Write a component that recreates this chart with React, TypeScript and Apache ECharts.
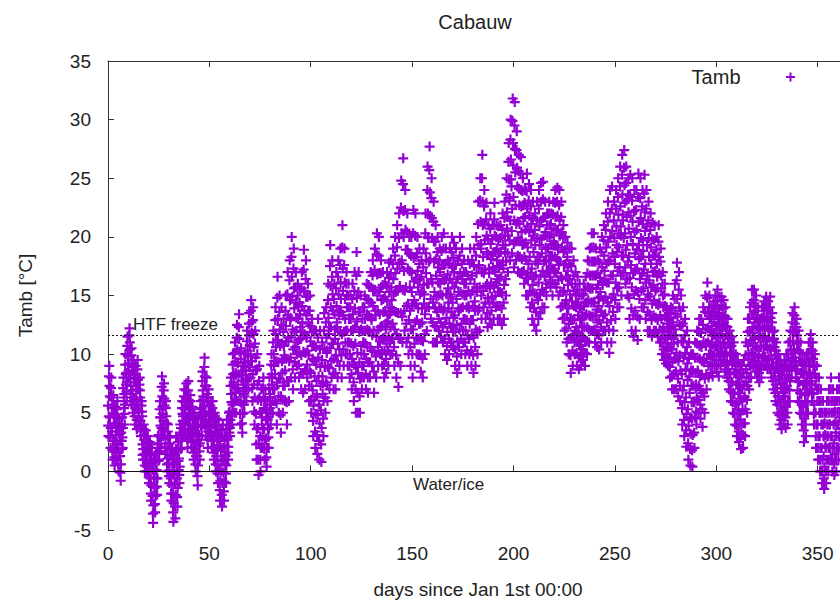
import React, { useEffect, useRef } from "react";
import * as echarts from "echarts";

const chartTitle = "Cabauw";
const seriesName = "Tamb";
const xAxisName = "days since Jan 1st 00:00";
const yAxisName = "Tamb [°C]";
const htfFreezeLabel = "HTF freeze";
const waterIceLabel = "Water/ice";
const htfFreezeLevel = 11.6;
const waterIceLevel = 0;

// hour of day of each of the eight readings kept per day (in the order they are listed)
const readingHours = [6, 3, 9, 0, 21, 18, 12, 15];

// Tamb readings [°C], eight per day
const jan = [
  3, 3.9, 4.7, 5.6, 6.4, 7.3, 8.1, 9, 2, 2.9, 3.7, 4.6, 5.4, 6.3, 7.1, 8,
  1, 1.8, 2.6, 3.4, 4.1, 4.9, 5.7, 6.5, 0.5, 1.2, 1.9, 2.6, 3.4, 4.1, 4.8, 5.5,
  1, 1.7, 2.4, 3.1, 3.9, 4.6, 5.3, 6, 0, 0.6, 1.3, 1.9, 2.6, 3.2, 3.9, 4.5,
  -0.8, -0.1, 0.6, 1.3, 1.9, 2.6, 3.3, 4, 2, 2.9, 3.7, 4.6, 5.4, 6.3, 7.1, 8,
  4, 4.9, 5.7, 6.6, 7.4, 8.3, 9.1, 10, 6, 6.8, 7.6, 8.4, 9.1, 9.9, 10.7, 11.5,
  8, 8.6, 9.2, 9.8, 10.4, 11, 11.6, 12.2, 6, 6.6, 7.3, 7.9, 8.6, 9.2, 9.9, 10.5,
  5, 5.6, 6.3, 6.9, 7.6, 8.2, 8.9, 9.5, 4, 4.7, 5.4, 6.1, 6.9, 7.6, 8.3, 9,
  3.6, 4.4, 5.3, 6.1, 7, 7.8, 8.7, 9.5, 4, 4.6, 5.1, 5.7, 6.3, 6.9, 7.4, 8,
  3, 3.4, 3.9, 4.3, 4.7, 5.1, 5.6, 6, 1, 1.4, 1.9, 2.3, 2.7, 3.1, 3.6, 4,
  0, 0.5, 1, 1.5, 2, 2.5, 3, 3.5, 0, 0.4, 0.9, 1.3, 1.7, 2.1, 2.6, 3,
  -1, -0.5, 0, 0.5, 1, 1.5, 2, 2.5, -2.5, -1.9, -1.2, -0.6, 0.1, 0.7, 1.4, 2,
  -4.4, -3.6, -2.9, -2.1, -1.3, -0.5, 0.2, 1, -3.5, -2.8, -2.1, -1.4, -0.6, 0.1, 0.8, 1.5,
  -2, -1.3, -0.6, 0.1, 0.9, 1.6, 2.3, 3, 1, 1.7, 2.4, 3.1, 3.9, 4.6, 5.3, 6,
  2, 2.9, 3.7, 4.6, 5.5, 6.4, 7.2, 8.1, 3, 3.6, 4.3, 4.9, 5.6, 6.2, 6.9, 7.5,
  1.5, 2.1, 2.8, 3.4, 4.1, 4.7, 5.4, 6, 0, 0.6, 1.1, 1.7, 2.3, 2.9, 3.4, 4,
  -1, -0.4, 0.1, 0.7, 1.3, 1.9, 2.4, 3,
];
const feb = [
  -2.5, -1.9, -1.2, -0.6, 0.1, 0.7, 1.4, 2, -4.3, -3.5, -2.7, -1.9, -1.1, -0.2, 0.6, 1.4,
  -4, -3, -2, -1, 0, 0.9, 1.9, 2.9, -3, -2.2, -1.4, -0.6, 0.1, 0.9, 1.7, 2.5,
  -1, -0.3, 0.4, 1.1, 1.9, 2.6, 3.3, 4, 2, 2.6, 3.1, 3.7, 4.3, 4.9, 5.4, 6,
  3, 3.6, 4.1, 4.7, 5.3, 5.9, 6.4, 7, 3, 3.6, 4.3, 4.9, 5.6, 6.2, 6.9, 7.5,
  2, 2.8, 3.6, 4.4, 5.3, 6.1, 6.9, 7.7, 3, 3.5, 4, 4.5, 5, 5.5, 6, 6.5,
  2, 2.5, 3, 3.5, 4, 4.5, 5, 5.5, 1, 1.6, 2.1, 2.7, 3.3, 3.9, 4.4, 5,
  0, 0.6, 1.3, 1.9, 2.6, 3.2, 3.9, 4.5, -1.2, -0.4, 0.5, 1.3, 2.2, 3, 3.9, 4.7,
  1, 1.7, 2.4, 3.1, 3.9, 4.6, 5.3, 6, 3, 3.8, 4.6, 5.4, 6.1, 6.9, 7.7, 8.5,
  4, 4.8, 5.6, 6.4, 7.3, 8.1, 8.9, 9.7, 3, 3.7, 4.4, 5.1, 5.9, 6.6, 7.3, 8,
  2, 2.7, 3.4, 4.1, 4.9, 5.6, 6.3, 7, 3, 3.4, 3.9, 4.3, 4.7, 5.1, 5.6, 6,
  2, 2.6, 3.1, 3.7, 4.3, 4.9, 5.4, 6, 1, 1.6, 2.1, 2.7, 3.3, 3.9, 4.4, 5,
  0, 0.6, 1.3, 1.9, 2.6, 3.2, 3.9, 4.5, -1, -0.2, 0.5, 1.3, 2.1, 2.9, 3.6, 4.4,
  -2.5, -1.6, -0.8, 0.1, 0.9, 1.8, 2.6, 3.5, -3, -2, -1, 0, 1, 2, 3, 4,
  -2.5, -1.7, -0.9, -0.1, 0.6, 1.4, 2.2, 3, -1, -0.2, 0.5, 1.3, 2.1, 2.9, 3.6, 4.4,
];
const mar = [
  1, 1.6, 2.1, 2.7, 3.3, 3.9, 4.4, 5, 3, 3.7, 4.4, 5.1, 5.9, 6.6, 7.3, 8,
  4, 4.9, 5.7, 6.6, 7.4, 8.3, 9.1, 10, 5, 5.9, 6.7, 7.6, 8.4, 9.3, 10.1, 11,
  5, 6.1, 7.1, 8.2, 9.3, 10.4, 11.4, 12.5, 6, 7.1, 8.1, 9.2, 10.2, 11.3, 12.3, 13.4,
  4, 4.9, 5.9, 6.8, 7.7, 8.6, 9.6, 10.5, 3.3, 4.1, 4.9, 5.7, 6.6, 7.4, 8.2, 9,
  5, 5.7, 6.4, 7.1, 7.9, 8.6, 9.3, 10, 6, 6.9, 7.7, 8.6, 9.4, 10.3, 11.1, 12,
  7, 7.9, 8.9, 9.8, 10.7, 11.6, 12.6, 13.5, 8, 8.9, 9.9, 10.8, 11.8, 12.7, 13.7, 14.6,
  6, 7.1, 8.3, 9.4, 10.6, 11.7, 12.9, 14, 4, 5.1, 6.3, 7.4, 8.6, 9.7, 10.9, 12,
  1, 2.3, 3.6, 4.9, 6.1, 7.4, 8.7, 10, -0.3, 1, 2.4, 3.7, 5, 6.3, 7.7, 9,
  0, 1, 2, 3, 4, 5, 6, 7, 2, 2.9, 3.7, 4.6, 5.4, 6.3, 7.1, 8,
  1, 1.9, 2.7, 3.6, 4.4, 5.3, 6.1, 7, 0.4, 1.2, 2, 2.8, 3.6, 4.4, 5.2, 6,
  2, 2.9, 3.7, 4.6, 5.4, 6.3, 7.1, 8, 4, 4.9, 5.7, 6.6, 7.4, 8.3, 9.1, 10,
  5, 6, 7, 8, 9, 10, 11, 12, 6, 7.1, 8.3, 9.4, 10.6, 11.7, 12.9, 14,
  4, 5.8, 7.6, 9.4, 11.2, 13, 14.8, 16.6, 5, 6.4, 7.9, 9.3, 10.7, 12.1, 13.6, 15,
  3.3, 4.8, 6.4, 7.9, 9.4, 10.9, 12.5, 14, 5, 6.1, 7.3, 8.4, 9.6, 10.7, 11.9, 13,
  6, 7.3, 8.6, 9.9, 11.1, 12.4, 13.7, 15, 4, 5.9, 7.7, 9.6, 11.4, 13.3, 15.1, 17,
  6, 7.7, 9.4, 11.1, 12.9, 14.6, 16.3, 18,
];
const apr = [
  8, 9.7, 11.4, 13.1, 14.9, 16.6, 18.3, 20, 7, 8.7, 10.4, 12.1, 13.9, 15.6, 17.3, 19,
  8, 9.3, 10.6, 11.9, 13.1, 14.4, 15.7, 17, 9, 10, 11, 12, 13, 14, 15, 16,
  8, 9.1, 10.1, 11.2, 12.3, 13.4, 14.4, 15.5, 7, 8.4, 9.9, 11.3, 12.7, 14.1, 15.6, 17,
  6.7, 8.4, 10.2, 11.9, 13.7, 15.4, 17.2, 18.9, 7, 8.6, 10.1, 11.7, 13.3, 14.9, 16.4, 18,
  8, 9.1, 10.3, 11.4, 12.6, 13.7, 14.9, 16, 6, 7.3, 8.6, 9.9, 11.1, 12.4, 13.7, 15,
  5, 6.1, 7.3, 8.4, 9.6, 10.7, 11.9, 13, 3, 4.3, 5.6, 6.9, 8.1, 9.4, 10.7, 12,
  2, 3.4, 4.9, 6.3, 7.7, 9.1, 10.6, 12, 1.5, 3.1, 4.8, 6.4, 8.1, 9.7, 11.4, 13,
  1, 2.6, 4.1, 5.7, 7.3, 8.9, 10.4, 12, 0.8, 2.3, 3.7, 5.2, 6.6, 8.1, 9.5, 11,
  3, 4.5, 6, 7.5, 9, 10.5, 12, 13.5, 5, 6.3, 7.6, 8.9, 10.1, 11.4, 12.7, 14,
  6, 7.4, 8.9, 10.3, 11.7, 13.1, 14.6, 16, 7, 8.8, 10.5, 12.3, 14, 15.8, 17.5, 19.3,
  8, 9.4, 10.9, 12.3, 13.7, 15.1, 16.6, 18, 7, 8.3, 9.6, 10.9, 12.1, 13.4, 14.7, 16,
  7, 8.4, 9.9, 11.3, 12.7, 14.1, 15.6, 17, 8, 9.4, 10.9, 12.3, 13.7, 15.1, 16.6, 18,
  9, 10.4, 11.9, 13.3, 14.7, 16.1, 17.6, 19, 8, 9.9, 11.7, 13.6, 15.4, 17.3, 19.1, 21,
  9, 10.4, 11.9, 13.3, 14.7, 16.1, 17.6, 19, 10, 11, 12, 13, 14, 15, 16, 17,
  9, 10, 11, 12, 13, 14, 15, 16, 8, 9, 10, 11, 12, 13, 14, 15,
];
const may = [
  7, 8.3, 9.6, 10.9, 12.1, 13.4, 14.7, 16, 6, 7.6, 9.1, 10.7, 12.3, 13.9, 15.4, 17,
  5, 7, 8.9, 10.9, 12.8, 14.8, 16.7, 18.7, 5, 6.7, 8.4, 10.1, 11.9, 13.6, 15.3, 17,
  5, 6.4, 7.9, 9.3, 10.7, 12.1, 13.6, 15, 7, 8, 9, 10, 11, 12, 13, 14,
  8, 9, 10, 11, 12, 13, 14, 15, 7, 8.3, 9.6, 10.9, 12.1, 13.4, 14.7, 16,
  6.7, 8, 9.3, 10.6, 12, 13.3, 14.6, 15.9, 8, 9.3, 10.6, 11.9, 13.1, 14.4, 15.7, 17,
  9, 10.3, 11.6, 12.9, 14.1, 15.4, 16.7, 18, 6.7, 8.5, 10.2, 12, 13.7, 15.5, 17.2, 19,
  8, 9.8, 11.5, 13.3, 15, 16.8, 18.5, 20.3, 9, 10.6, 12.1, 13.7, 15.3, 16.9, 18.4, 20,
  10, 11.1, 12.3, 13.4, 14.6, 15.7, 16.9, 18, 9, 10.1, 11.3, 12.4, 13.6, 14.7, 15.9, 17,
  8, 9.1, 10.3, 11.4, 12.6, 13.7, 14.9, 16, 8.4, 9.6, 10.9, 12.1, 13.3, 14.5, 15.8, 17,
  9, 10.3, 11.5, 12.8, 14, 15.3, 16.5, 17.8, 10, 11.1, 12.3, 13.4, 14.6, 15.7, 16.9, 18,
  10, 11.3, 12.6, 13.9, 15.1, 16.4, 17.7, 19, 9, 10.6, 12.1, 13.7, 15.3, 16.9, 18.4, 20,
  8, 9.9, 11.7, 13.6, 15.4, 17.3, 19.1, 21, 7.2, 9.3, 11.4, 13.5, 15.7, 17.8, 19.9, 22,
  9, 11.3, 13.5, 15.8, 18, 20.3, 22.5, 24.8, 11, 13.2, 15.5, 17.7, 20, 22.2, 24.5, 26.7,
  12, 13.7, 15.4, 17.1, 18.9, 20.6, 22.3, 24, 11, 12.6, 14.1, 15.7, 17.3, 18.9, 20.4, 22,
  10, 11.4, 12.9, 14.3, 15.7, 17.1, 18.6, 20, 9, 10.6, 12.1, 13.7, 15.3, 16.9, 18.4, 20,
  8, 10, 12.1, 14.1, 16.2, 18.2, 20.3, 22.3,
];
const jun = [
  9, 10.9, 12.7, 14.6, 16.4, 18.3, 20.1, 22, 10, 11.4, 12.9, 14.3, 15.7, 17.1, 18.6, 20,
  10, 11.3, 12.6, 13.9, 15.1, 16.4, 17.7, 19, 8.5, 9.9, 11.2, 12.6, 13.9, 15.3, 16.6, 18,
  8, 9.6, 11.1, 12.7, 14.3, 15.9, 17.4, 19, 10, 11.7, 13.4, 15.1, 16.9, 18.6, 20.3, 22,
  12, 14, 16, 18, 20, 22, 24, 26, 14, 16, 17.9, 19.9, 21.8, 23.8, 25.7, 27.7,
  13, 14.7, 16.4, 18.1, 19.9, 21.6, 23.3, 25, 11, 12.7, 14.4, 16.1, 17.9, 19.6, 21.3, 23,
  11, 12.4, 13.9, 15.3, 16.7, 18.1, 19.6, 21, 11, 12.3, 13.6, 14.9, 16.1, 17.4, 18.7, 20,
  12, 13, 14, 15, 16, 17, 18, 19, 11.5, 12.7, 13.9, 15.1, 16.4, 17.6, 18.8, 20,
  11, 12.3, 13.7, 15, 16.3, 17.6, 19, 20.3, 10, 11.3, 12.6, 13.9, 15.1, 16.4, 17.7, 19,
  9.5, 10.7, 11.9, 13.1, 14.4, 15.6, 16.8, 18, 10, 11.3, 12.6, 13.9, 15.1, 16.4, 17.7, 19,
  11, 12.3, 13.6, 14.9, 16.1, 17.4, 18.7, 20, 10.6, 11.9, 13.1, 14.4, 15.7, 17, 18.2, 19.5,
  9, 10.4, 11.9, 13.3, 14.7, 16.1, 17.6, 19, 8.4, 9.8, 11.1, 12.5, 13.9, 15.3, 16.6, 18,
  9, 10.6, 12.1, 13.7, 15.3, 16.9, 18.4, 20, 10, 11.3, 12.6, 13.9, 15.1, 16.4, 17.7, 19,
  11, 12, 13, 14, 15, 16, 17, 18, 10, 11, 12, 13, 14, 15, 16, 17,
  9, 10.3, 11.6, 12.9, 14.1, 15.4, 16.7, 18, 10, 11.3, 12.6, 13.9, 15.1, 16.4, 17.7, 19,
  9, 10.3, 11.6, 12.9, 14.1, 15.4, 16.7, 18, 8.4, 9.9, 11.4, 12.9, 14.5, 16, 17.5, 19,
];
const jul = [
  9, 10.6, 12.1, 13.7, 15.3, 16.9, 18.4, 20, 10, 11.9, 13.7, 15.6, 17.4, 19.3, 21.1, 23,
  12, 13.9, 15.7, 17.6, 19.4, 21.3, 23.1, 25, 13, 15, 17, 19, 21, 23, 25, 27,
  14, 15.4, 16.9, 18.3, 19.7, 21.1, 22.6, 24, 13, 14.4, 15.8, 17.2, 18.7, 20.1, 21.5, 22.9,
  12.3, 13.5, 14.8, 16, 17.3, 18.5, 19.8, 21, 13, 14.3, 15.6, 16.9, 18.1, 19.4, 20.7, 22,
  12.5, 13.7, 14.9, 16.1, 17.4, 18.6, 19.8, 21, 13, 14.4, 15.8, 17.2, 18.7, 20.1, 21.5, 22.9,
  14, 15, 16, 17, 18, 19, 20, 21, 13, 14.1, 15.3, 16.4, 17.5, 18.6, 19.8, 20.9,
  13, 14.1, 15.3, 16.4, 17.6, 18.7, 19.9, 21, 12.5, 13.9, 15.2, 16.6, 17.9, 19.3, 20.6, 22,
  13, 14.4, 15.9, 17.3, 18.7, 20.1, 21.6, 23, 15, 16.4, 17.9, 19.3, 20.7, 22.1, 23.6, 25,
  17, 18.6, 20.1, 21.7, 23.3, 24.9, 26.4, 28, 18, 19.7, 21.4, 23.1, 24.9, 26.6, 28.3, 30,
  18.6, 20.5, 22.4, 24.3, 26.1, 28, 29.9, 31.8, 17.4, 19.4, 21.4, 23.4, 25.5, 27.5, 29.5, 31.5,
  18, 19.6, 21.1, 22.7, 24.3, 25.9, 27.4, 29, 17, 18.4, 19.9, 21.3, 22.7, 24.1, 25.6, 27,
  16.9, 18.3, 19.7, 21.1, 22.6, 24, 25.4, 26.8, 17, 18.1, 19.3, 20.4, 21.6, 22.7, 23.9, 25,
  16, 17.1, 18.3, 19.4, 20.6, 21.7, 22.9, 24, 15, 16.5, 18, 19.5, 20.9, 22.4, 23.9, 25.4,
  15, 16.4, 17.7, 19.1, 20.4, 21.8, 23.1, 24.5, 14, 15.4, 16.9, 18.3, 19.7, 21.1, 22.6, 24,
  13, 14.4, 15.9, 17.3, 18.7, 20.1, 21.6, 23, 12.5, 13.9, 15.2, 16.6, 17.9, 19.3, 20.6, 22,
  12, 13.6, 15.1, 16.7, 18.3, 19.9, 21.4, 23,
];
const aug = [
  13, 14.6, 16.1, 17.7, 19.3, 20.9, 22.4, 24, 13.5, 15.1, 16.7, 18.3, 19.8, 21.4, 23, 24.6,
  14, 15.5, 17.1, 18.6, 20.1, 21.6, 23.2, 24.7, 14, 15.3, 16.6, 17.9, 19.1, 20.4, 21.7, 23,
  15, 16, 17, 18, 19, 20, 21, 22, 16, 17, 18, 19, 20, 21, 22, 23,
  15.7, 16.6, 17.5, 18.4, 19.3, 20.2, 21.1, 22, 15, 16.1, 17.3, 18.4, 19.6, 20.7, 21.9, 23,
  16, 17.1, 18.3, 19.4, 20.6, 21.7, 22.9, 24, 15.7, 16.9, 18.1, 19.3, 20.6, 21.8, 23, 24.2,
  15, 16.3, 17.6, 18.9, 20.1, 21.4, 22.7, 24, 14, 15.3, 16.6, 17.9, 19.1, 20.4, 21.7, 23,
  13, 14.1, 15.3, 16.4, 17.6, 18.7, 19.9, 21, 12, 13.1, 14.3, 15.4, 16.6, 17.7, 18.9, 20,
  11, 12.2, 13.4, 14.6, 15.9, 17.1, 18.3, 19.5, 10, 11.3, 12.6, 13.9, 15.1, 16.4, 17.7, 19,
  8.4, 9.9, 11.4, 12.9, 14.5, 16, 17.5, 19, 9, 10.3, 11.6, 12.9, 14.1, 15.4, 16.7, 18,
  10, 11, 12, 13, 14, 15, 16, 17, 9, 10.1, 11.2, 12.3, 13.3, 14.4, 15.5, 16.6,
  8.7, 9.7, 10.8, 11.8, 12.9, 13.9, 15, 16, 9, 9.9, 10.7, 11.6, 12.4, 13.3, 14.1, 15,
  9.5, 10.4, 11.4, 12.3, 13.2, 14.1, 15.1, 16, 9, 10.1, 11.2, 12.3, 13.3, 14.4, 15.5, 16.6,
  10, 11.1, 12.3, 13.4, 14.6, 15.7, 16.9, 18, 11, 12.1, 13.3, 14.4, 15.6, 16.7, 17.9, 19,
  12, 13.2, 14.4, 15.6, 16.7, 17.9, 19.1, 20.3, 12, 13.2, 14.4, 15.6, 16.7, 17.9, 19.1, 20.3,
  11, 12.1, 13.3, 14.4, 15.6, 16.7, 17.9, 19, 10.6, 11.7, 12.7, 13.8, 14.8, 15.9, 16.9, 18,
  10.4, 11.6, 12.9, 14.1, 15.3, 16.5, 17.8, 19,
];
const sep = [
  11, 12.3, 13.6, 14.9, 16.1, 17.4, 18.7, 20, 12, 13.3, 14.6, 15.9, 17.1, 18.4, 19.7, 21,
  12, 13.4, 14.9, 16.3, 17.7, 19.1, 20.6, 22, 11, 12.7, 14.4, 16.1, 17.9, 19.6, 21.3, 23,
  10.1, 12.1, 14.1, 16.1, 18, 20, 22, 24, 11, 12.9, 14.8, 16.7, 18.6, 20.5, 22.4, 24.3,
  12, 13.6, 15.1, 16.7, 18.3, 19.9, 21.4, 23, 13, 14.6, 16.1, 17.7, 19.3, 20.9, 22.4, 24,
  14, 15.6, 17.1, 18.7, 20.3, 21.9, 23.4, 25, 14, 15.7, 17.4, 19.1, 20.9, 22.6, 24.3, 26,
  15, 16.7, 18.4, 20.1, 21.9, 23.6, 25.3, 27, 16.9, 18.4, 19.9, 21.4, 22.9, 24.4, 25.9, 27.4,
  16, 17.4, 18.9, 20.3, 21.7, 23.1, 24.6, 26, 15, 16.4, 17.9, 19.3, 20.7, 22.1, 23.6, 25,
  13, 14.8, 16.5, 18.3, 20, 21.8, 23.5, 25.3, 12, 13.9, 15.7, 17.6, 19.4, 21.3, 23.1, 25,
  11.5, 13.3, 15.1, 16.9, 18.6, 20.4, 22.2, 24, 12, 13.7, 15.4, 17.1, 18.9, 20.6, 22.3, 24,
  11.2, 13.2, 15.3, 17.3, 19.3, 21.3, 23.4, 25.4, 13, 14.7, 16.4, 18.1, 19.9, 21.6, 23.3, 25,
  14, 15.4, 16.9, 18.3, 19.7, 21.1, 22.6, 24, 14, 15.6, 17.2, 18.8, 20.5, 22.1, 23.7, 25.3,
  13, 14.6, 16.1, 17.7, 19.3, 20.9, 22.4, 24, 12, 13.6, 15.1, 16.7, 18.3, 19.9, 21.4, 23,
  12, 13.4, 14.9, 16.3, 17.7, 19.1, 20.6, 22, 11.5, 12.9, 14.3, 15.7, 17, 18.4, 19.8, 21.2,
  12, 13.3, 14.6, 15.9, 17.1, 18.4, 19.7, 21, 12, 13.1, 14.3, 15.4, 16.6, 17.7, 18.9, 20,
  11.5, 12.9, 14.2, 15.6, 16.9, 18.3, 19.6, 21, 11, 12.1, 13.3, 14.4, 15.6, 16.7, 17.9, 19,
];
const oct = [
  10, 11, 12, 13, 14, 15, 16, 17, 9.5, 10.4, 11.4, 12.3, 13.2, 14.1, 15.1, 16,
  9.2, 9.9, 10.6, 11.3, 11.9, 12.6, 13.3, 14, 9, 9.6, 10.3, 10.9, 11.6, 12.2, 12.9, 13.5,
  8, 8.9, 9.7, 10.6, 11.4, 12.3, 13.1, 14, 7, 8.1, 9.3, 10.4, 11.6, 12.7, 13.9, 15,
  7, 8.3, 9.6, 10.9, 12.1, 13.4, 14.7, 16, 7, 8.5, 10.1, 11.6, 13.2, 14.7, 16.3, 17.8,
  6.4, 7.9, 9.4, 11, 12.5, 14, 15.5, 17, 6, 7.3, 8.6, 9.9, 11.1, 12.4, 13.7, 15,
  4, 5.4, 6.9, 8.3, 9.7, 11.1, 12.6, 14, 3, 4.4, 5.9, 7.3, 8.7, 10.1, 11.6, 13,
  2.1, 3.5, 4.9, 6.3, 7.8, 9.2, 10.6, 12, 1, 2.4, 3.9, 5.3, 6.7, 8.1, 9.6, 11,
  0.5, 1.9, 3.2, 4.6, 5.9, 7.3, 8.6, 10, 0.4, 1.8, 3.1, 4.5, 5.9, 7.3, 8.6, 10,
  2, 3.3, 4.6, 5.9, 7.1, 8.4, 9.7, 11, 4, 5.1, 6.3, 7.4, 8.6, 9.7, 10.9, 12,
  5, 6.1, 7.3, 8.4, 9.6, 10.7, 11.9, 13, 4.5, 5.7, 6.9, 8.1, 9.4, 10.6, 11.8, 13,
  3.8, 5.3, 6.7, 8.2, 9.6, 11.1, 12.5, 14, 5, 6.4, 7.9, 9.3, 10.7, 12.1, 13.6, 15,
  7, 8.3, 9.6, 10.9, 12.2, 13.5, 14.8, 16.1, 8, 9, 10, 11, 12, 13, 14, 15,
  8.4, 9.2, 10, 10.8, 11.6, 12.4, 13.2, 14, 8.1, 9, 9.9, 10.8, 11.8, 12.7, 13.6, 14.5,
  9, 9.9, 10.7, 11.6, 12.4, 13.3, 14.1, 15, 8.5, 9.5, 10.5, 11.5, 12.5, 13.5, 14.5, 15.5,
  8.1, 9.1, 10, 11, 12, 13, 13.9, 14.9, 9, 9.8, 10.7, 11.5, 12.4, 13.2, 14.1, 14.9,
  9.5, 10.2, 11, 11.7, 12.4, 13.1, 13.9, 14.6,
];
const nov = [
  8.5, 9.3, 10.1, 10.9, 11.6, 12.4, 13.2, 14, 8, 8.7, 9.4, 10.1, 10.9, 11.6, 12.3, 13,
  7, 7.7, 8.4, 9.1, 9.9, 10.6, 11.3, 12, 6, 6.8, 7.6, 8.4, 9.1, 9.9, 10.7, 11.5,
  5, 5.9, 6.7, 7.6, 8.4, 9.3, 10.1, 11, 4, 4.9, 5.7, 6.6, 7.4, 8.3, 9.1, 10,
  3, 3.9, 4.9, 5.8, 6.7, 7.6, 8.6, 9.5, 2.5, 3.4, 4.4, 5.3, 6.2, 7.1, 8.1, 9,
  1.9, 2.9, 3.9, 4.9, 6, 7, 8, 9, 2, 3.1, 4.1, 5.2, 6.3, 7.4, 8.4, 9.5,
  3, 4.1, 5.3, 6.4, 7.6, 8.7, 9.9, 11, 5, 6.1, 7.3, 8.4, 9.6, 10.7, 11.9, 13,
  7, 8, 9, 10, 11, 12, 13, 14, 8, 9.1, 10.1, 11.2, 12.3, 13.4, 14.4, 15.5,
  9, 9.9, 10.9, 11.8, 12.7, 13.6, 14.6, 15.5, 8.5, 9.4, 10.4, 11.3, 12.2, 13.1, 14.1, 15,
  8, 8.9, 9.7, 10.6, 11.4, 12.3, 13.1, 14, 7.6, 8.4, 9.1, 9.9, 10.7, 11.5, 12.2, 13,
  8, 8.9, 9.7, 10.6, 11.4, 12.3, 13.1, 14, 9, 9.8, 10.6, 11.4, 12.1, 12.9, 13.7, 14.5,
  9, 9.8, 10.7, 11.5, 12.4, 13.2, 14.1, 14.9, 8.7, 9.5, 10.4, 11.2, 12, 12.8, 13.7, 14.5,
  8.7, 9.6, 10.5, 11.4, 12.2, 13.1, 14, 14.9, 8, 8.8, 9.6, 10.4, 11.1, 11.9, 12.7, 13.5,
  7, 7.7, 8.4, 9.1, 9.9, 10.6, 11.3, 12, 6, 6.7, 7.4, 8.1, 8.9, 9.6, 10.3, 11,
  5, 5.7, 6.4, 7.1, 7.9, 8.6, 9.3, 10, 4, 4.8, 5.6, 6.4, 7.1, 7.9, 8.7, 9.5,
  3.6, 4.4, 5.1, 5.9, 6.7, 7.5, 8.2, 9, 4, 4.8, 5.6, 6.4, 7.1, 7.9, 8.7, 9.5,
];
const dec = [
  3.7, 4.6, 5.5, 6.4, 7.3, 8.2, 9.1, 10, 4, 5, 6, 7, 8, 9, 10, 11,
  6, 6.9, 7.7, 8.6, 9.4, 10.3, 11.1, 12, 8, 8.8, 9.6, 10.4, 11.1, 11.9, 12.7, 13.5,
  9, 9.7, 10.4, 11.1, 11.9, 12.6, 13.3, 14, 8, 8.7, 9.4, 10.1, 10.9, 11.6, 12.3, 13,
  6, 6.9, 7.7, 8.6, 9.4, 10.3, 11.1, 12, 5, 5.9, 6.7, 7.6, 8.4, 9.3, 10.1, 11,
  4, 4.9, 5.7, 6.6, 7.4, 8.3, 9.1, 10, 2.5, 3.5, 4.5, 5.5, 6.5, 7.5, 8.5, 9.5,
  3, 4, 5, 6, 7, 8, 9, 10, 5, 5.9, 6.7, 7.6, 8.4, 9.3, 10.1, 11,
  7, 7.7, 8.3, 9, 9.7, 10.4, 11, 11.7, 6, 6.7, 7.4, 8.1, 8.9, 9.6, 10.3, 11,
  4, 4.9, 5.7, 6.6, 7.4, 8.3, 9.1, 10, 2, 3, 4, 5, 6, 7, 8, 9,
  1, 2, 3, 4, 5, 6, 7, 8, 0, 1, 2, 3, 4, 5, 6, 7,
  -1, 0, 1, 2, 3, 4, 5, 6, -1.5, -0.6, 0.4, 1.3, 2.2, 3.1, 4.1, 5,
  -1, 0, 1, 2, 3, 4, 5, 6, 0, 1, 2, 3, 4, 5, 6, 7,
  1, 2, 3, 4, 5, 6, 7, 8, 0, 1, 2, 3, 4, 5, 6, 7,
  -0.3, 0.6, 1.5, 2.4, 3.3, 4.2, 5.1, 6, 0, 1, 2, 3, 4, 5, 6, 7,
  1, 2, 3, 4, 5, 6, 7, 8, 2, 2.9, 3.7, 4.6, 5.4, 6.3, 7.1, 8,
  1, 1.9, 2.7, 3.6, 4.4, 5.3, 6.1, 7, 0, 0.9, 1.7, 2.6, 3.4, 4.3, 5.1, 6,
  1, 1.9, 2.7, 3.6, 4.4, 5.3, 6.1, 7,
];

const months = [jan, feb, mar, apr, may, jun, jul, aug, sep, oct, nov, dec];

const PLUS = "path://M3.9,0H6.1V3.9H10V6.1H6.1V10H3.9V6.1H0V3.9H3.9Z";
const FONT = "'Liberation Sans', Arial, sans-serif";
const TEXT = "#222222";
const AXIS = "#333333";
const PURPLE = "#9400d3";

function buildPoints(): number[][] {
  const pts: number[][] = [];
  const perDay = readingHours.length;
  let dayOffset = 0;
  months.forEach((arr) => {
    arr.forEach((v, i) => {
      const day = dayOffset + Math.floor(i / perDay);
      pts.push([day + readingHours[i % perDay] / 24, v]);
    });
    dayOffset += Math.round(arr.length / perDay);
  });
  return pts;
}

export default function App() {
  const ref = useRef<HTMLDivElement>(null);
  useEffect(() => {
    if (!ref.current) return;
    const chart = echarts.init(ref.current, undefined, { renderer: "svg" });
    const axisCommon = {
      axisLine: { show: true, lineStyle: { color: AXIS, width: 1 } },
      axisTick: { show: true, inside: true, length: 6, lineStyle: { color: AXIS, width: 1 } },
      splitLine: { show: false },
    };
    chart.setOption({
      animation: false,
      backgroundColor: "#ffffff",
      textStyle: { fontFamily: FONT },
      title: {
        text: chartTitle,
        left: 475,
        top: 12,
        padding: 0,
        textAlign: "center",
        textStyle: { fontSize: 20, fontWeight: "normal", color: TEXT, fontFamily: FONT },
      },
      legend: {
        data: [{ name: seriesName, icon: PLUS }],
        right: 45,
        top: 67,
        padding: 0,
        align: "right",
        itemWidth: 90,
        itemHeight: 9,
        selectedMode: false,
        textStyle: { fontSize: 20, color: TEXT, fontFamily: FONT },
      },
      grid: { left: 108, top: 61, width: 740, height: 469, outerBoundsMode: "none", containLabel: false },
      xAxis: [
        {
          type: "value",
          position: "bottom",
          min: 0,
          max: 365,
          interval: 50,
          name: xAxisName,
          nameLocation: "middle",
          nameGap: 50,
          nameTextStyle: { fontSize: 19, color: TEXT, fontFamily: FONT },
          axisLabel: { fontSize: 19, color: TEXT, margin: 14, showMaxLabel: false, fontFamily: FONT },
          ...axisCommon,
        },
        {
          type: "value",
          position: "top",
          min: 0,
          max: 365,
          interval: 50,
          axisLabel: { show: false },
          ...axisCommon,
        },
      ],
      yAxis: [
        {
          type: "value",
          min: -5,
          max: 35,
          interval: 5,
          name: yAxisName,
          nameLocation: "middle",
          nameRotate: 90,
          nameGap: 73,
          nameTextStyle: { fontSize: 19, color: TEXT, fontFamily: FONT },
          axisLabel: { fontSize: 19, color: TEXT, margin: 17, fontFamily: FONT },
          ...axisCommon,
        },
      ],
      series: [
        {
          type: "scatter",
          name: seriesName,
          xAxisIndex: 0,
          yAxisIndex: 0,
          symbol: PLUS,
          symbolSize: 10,
          large: false,
          itemStyle: { color: PURPLE, opacity: 1 },
          data: buildPoints(),
          markLine: {
            silent: true,
            symbol: ["none", "none"],
            data: [
              {
                yAxis: htfFreezeLevel,
                lineStyle: { type: [2, 2], color: "#111111", width: 1 },
                label: {
                  show: true,
                  formatter: htfFreezeLabel,
                  position: "insideStartTop",
                  distance: [25, 2],
                  fontSize: 17,
                  color: TEXT,
                  fontFamily: FONT,
                },
              },
              {
                yAxis: waterIceLevel,
                lineStyle: { type: "solid", color: "#111111", width: 1 },
                label: {
                  show: true,
                  formatter: waterIceLabel,
                  position: "insideStartBottom",
                  distance: [305, 5],
                  fontSize: 17,
                  color: TEXT,
                  fontFamily: FONT,
                },
              },
            ],
          },
        },
      ],
    });
    return () => chart.dispose();
  }, []);
  return (
    <div
      ref={ref}
      style={{ position: "fixed", left: 0, top: 0, width: 840, height: 601, background: "#fff" }}
    />
  );
}
